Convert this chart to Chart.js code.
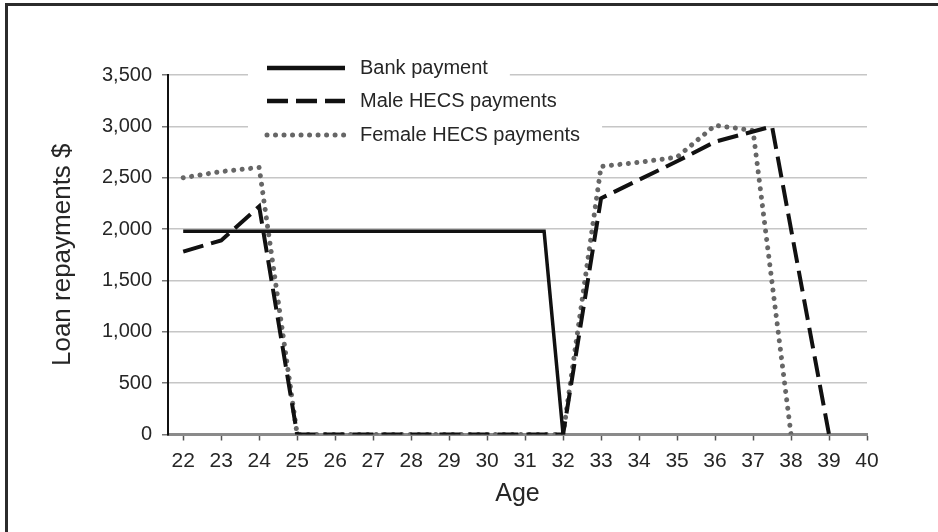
<!DOCTYPE html>
<html>
<head>
<meta charset="utf-8">
<script src="https://cdn.jsdelivr.net/npm/chart.js@4/dist/chart.umd.min.js"></script>
<style>
  html, body { margin: 0; padding: 0; background: #fff; }
  #wrap { position: relative; width: 938px; height: 532px; }
  #frame { position: absolute; left: 5px; top: 3px; right: 0; bottom: 0;
           border-left: 3px solid #2b2b2b; border-top: 3px solid #2b2b2b; pointer-events: none; }
</style>
</head>
<body>
<div id="wrap">
  <canvas id="myChart" width="938" height="532"></canvas>
  <div id="frame"></div>
</div>
<script>
'use strict';

// values
let ageTicks = [22, 23, 24, 25, 26, 27, 28, 29, 30, 31, 32, 33, 34, 35, 36, 37, 38, 39, 40];

let bankAge = [22, 31.5, 32];
let bankPay = [1980, 1980, 0];

let maleAge = [22, 23, 24, 25, 26, 27, 28, 29, 30, 31, 32, 33, 34, 35, 36, 37, 37.5, 39];
let malePay = [1780, 1890, 2220, 0, 0, 0, 0, 0, 0, 0, 0, 2300, 2480, 2660, 2850, 2950, 3000, 0];

let femaleAge = [22, 23, 24, 25, 26, 27, 28, 29, 30, 31, 32, 33, 34, 35, 36, 37, 38];
let femalePay = [2500, 2560, 2600, 0, 0, 0, 0, 0, 0, 0, 0, 2610, 2650, 2700, 3010, 2960, 0];

let seriesNames = ['Bank payment', 'Male HECS payments', 'Female HECS payments'];

function points(xs, ys) {
  let out = [];
  for (let i = 0; i < xs.length; i++) {
    out.push({ x: xs[i], y: ys[i] });
  }
  return out;
}

let textColor = '#262626';
let fontFam = '"Liberation Sans", Arial, sans-serif';

// legend drawn inside the plot, like the original
let insideLegend = {
  id: 'insideLegend',
  afterDatasetsDraw(chart) {
    let ctx = chart.ctx;
    let rowsY = [68, 101, 135];
    ctx.save();
    ctx.font = '20px ' + fontFam;
    chart.data.datasets.forEach((ds, i) => {
      let y = rowsY[i];
      let tw = ctx.measureText(ds.label).width;
      ctx.fillStyle = '#fff';
      ctx.fillRect(248, y - 14, 360 + tw + 22 - 248, 28);

      ctx.beginPath();
      ctx.strokeStyle = ds.borderColor;
      ctx.lineWidth = ds.legendWidth;
      ctx.lineCap = ds.borderCapStyle || 'butt';
      ctx.setLineDash(ds.borderDash || []);
      ctx.moveTo(267, y);
      ctx.lineTo(345, y);
      ctx.stroke();
      ctx.setLineDash([]);

      ctx.fillStyle = textColor;
      ctx.textBaseline = 'middle';
      ctx.textAlign = 'left';
      ctx.fillText(ds.label, 360, y);
    });
    ctx.restore();
  }
};

let ctx = document.getElementById('myChart').getContext('2d');

let myChart = new Chart(ctx, {
  type: 'line',
  data: {
    datasets: [{
      label: seriesNames[0],
      data: points(bankAge, bankPay),
      borderColor: '#111',
      borderWidth: 3.5,
      legendWidth: 4.5,
      pointRadius: 0
    },
    {
      label: seriesNames[1],
      data: points(maleAge, malePay),
      borderColor: '#111',
      borderWidth: 4,
      legendWidth: 4.5,
      borderDash: [21, 8],
      pointRadius: 0
    },
    {
      label: seriesNames[2],
      data: points(femaleAge, femalePay),
      borderColor: '#666',
      borderWidth: 5,
      legendWidth: 5,
      borderDash: [0.01, 8.5],
      borderCapStyle: 'round',
      pointRadius: 0
    }]
  },
  options: {
    responsive: false,
    animation: false,
    layout: { padding: { top: 75, right: 71, left: 0, bottom: 0 } },
    plugins: {
      legend: { display: false },
      tooltip: { enabled: false }
    },
    scales: {
      x: {
        type: 'linear',
        min: 21.6,
        max: 40,
        afterBuildTicks: (scale) => {
          scale.ticks = ageTicks.map(v => ({ value: v }));
        },
        afterFit: (scale) => { scale.height = 97.5; },
        border: { color: '#8a8a8a', width: 3 },
        grid: { drawOnChartArea: false, drawTicks: true, tickLength: 6, tickColor: '#555', tickWidth: 1.5 },
        ticks: {
          color: textColor,
          font: { family: fontFam, size: 21 },
          padding: 8,
          maxRotation: 0,
          autoSkip: false,
          callback: (v) => String(v)
        },
        title: {
          display: true,
          text: 'Age',
          color: textColor,
          font: { family: fontFam, size: 25 },
          padding: { top: 0, bottom: 23 }
        }
      },
      y: {
        min: 0,
        max: 3500,
        afterFit: (scale) => { scale.width = 168; },
        border: { color: '#111', width: 2 },
        grid: { color: '#c6c6c6', lineWidth: 1.5, tickLength: 6, tickColor: '#777' },
        ticks: {
          stepSize: 500,
          color: textColor,
          font: { family: fontFam, size: 20 },
          padding: 10,
          callback: (v) => v.toLocaleString('en-US')
        },
        title: {
          display: true,
          text: 'Loan repayments $',
          color: textColor,
          font: { family: fontFam, size: 26 },
          padding: { top: 47, bottom: 0 }
        }
      }
    }
  },
  plugins: [insideLegend]
});
</script>
</body>
</html>
